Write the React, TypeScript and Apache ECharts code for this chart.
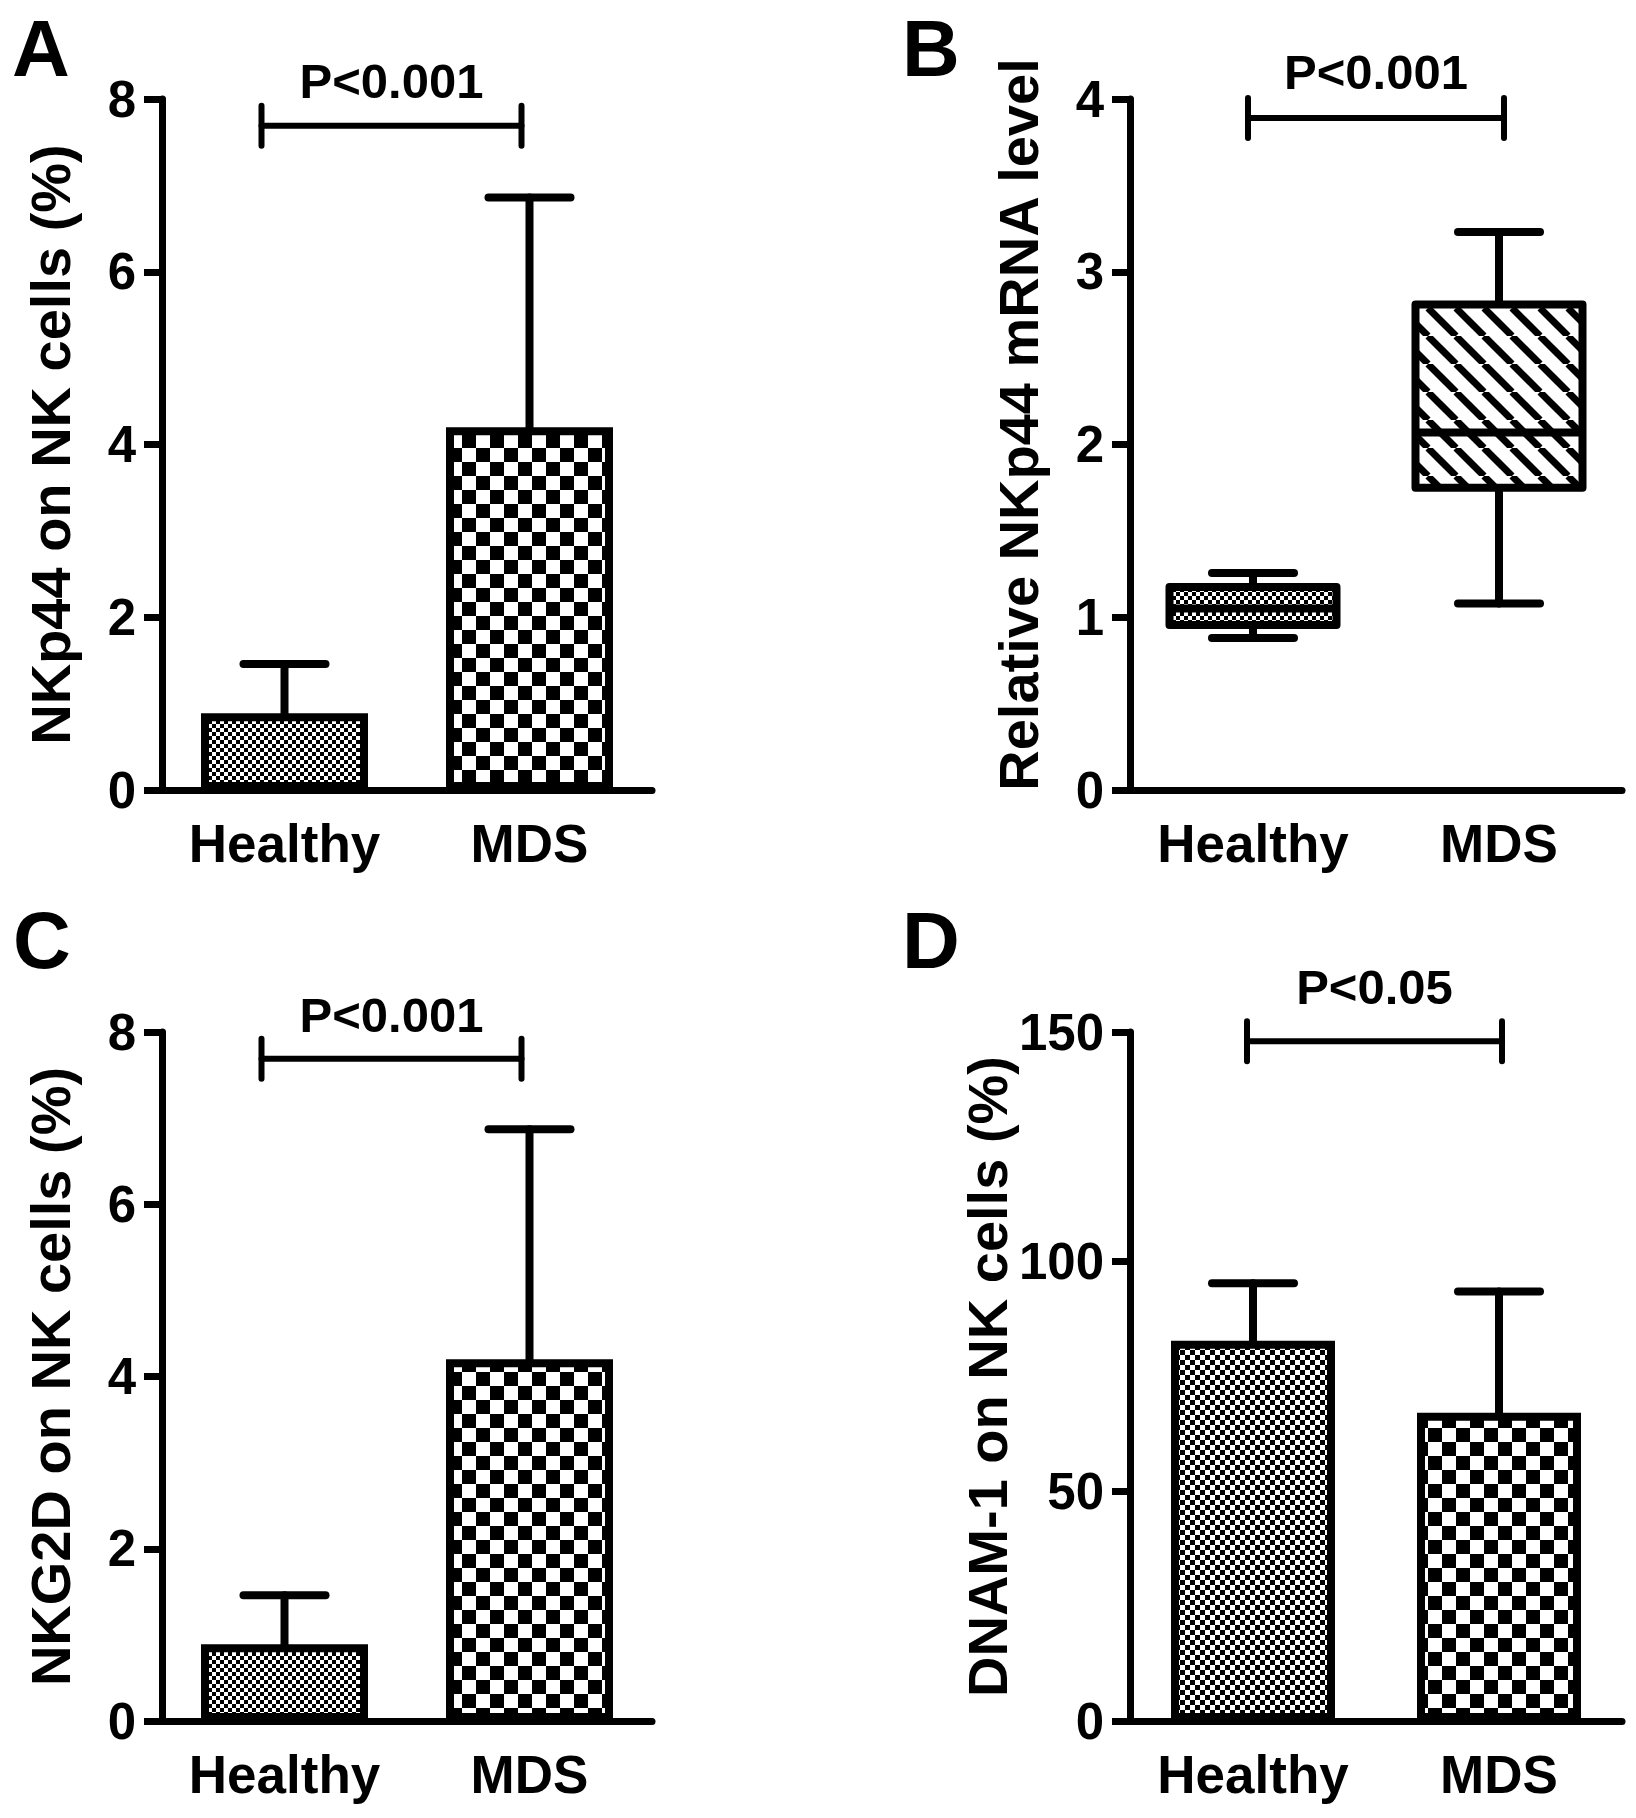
import { useEffect, useRef } from 'react';
import * as echarts from 'echarts';

const FONT = '"Liberation Sans", Arial, Helvetica, sans-serif';

// groups on the x axis
const categories = ['Healthy', 'MDS'];

// A: NKp44 on NK cells (%) — mean and top of the error bar
const nkp44Mean = [0.89, 4.2];
const nkp44ErrTop = [1.46, 6.86];

// B: relative NKp44 mRNA level — [min, Q1, median, Q3, max]
const mrnaHealthy = [0.88, 0.955, 1.05, 1.175, 1.256];
const mrnaMds = [1.08, 1.75, 2.07, 2.81, 3.23];

// C: NKG2D on NK cells (%)
const nkg2dMean = [0.89, 4.2];
const nkg2dErrTop = [1.46, 6.87];

// D: DNAM-1 on NK cells (%)
const dnamMean = [82.8, 67.1];
const dnamErrTop = [95.3, 93.5];

// y axis ticks per panel
const ticksA = [0, 2, 4, 6, 8];
const ticksB = [0, 1, 2, 3, 4];
const ticksC = [0, 2, 4, 6, 8];
const ticksD = [0, 50, 100, 150];

// significance brackets
const bracketLevels = [7.69, 3.89, 7.69, 148];
const pLabels = ['P<0.001', 'P<0.001', 'P<0.001', 'P<0.05'];

const BOX_WIDTH = 167;
const CAP_HALF = 41;

function makeChecker(cell: number) {
  const c = document.createElement('canvas');
  c.width = cell * 2;
  c.height = cell * 2;
  const ctx = c.getContext('2d')!;
  ctx.fillStyle = '#fff';
  ctx.fillRect(0, 0, c.width, c.height);
  ctx.fillStyle = '#000';
  ctx.fillRect(0, 0, cell, cell);
  ctx.fillRect(cell, cell, cell, cell);
  return c;
}

function makeHatch(size: number, width: number) {
  const c = document.createElement('canvas');
  c.width = size;
  c.height = size;
  const ctx = c.getContext('2d')!;
  ctx.fillStyle = '#fff';
  ctx.fillRect(0, 0, size, size);
  ctx.strokeStyle = '#000';
  ctx.lineWidth = width;
  for (const x0 of [-size, 0, size]) {
    ctx.beginPath();
    ctx.moveTo(x0, 0);
    ctx.lineTo(x0 + size, size);
    ctx.stroke();
  }
  return c;
}

const lineStyle = (w: number) => ({ stroke: '#000', lineWidth: w, lineCap: 'round' as const });

export default function App() {
  const chartRef = useRef<HTMLDivElement>(null);

  useEffect(() => {
    if (!chartRef.current) return;
    document.body.style.margin = '0';

    const chart = echarts.init(chartRef.current, undefined, { renderer: 'svg' });

    const fineCheck = makeChecker(4);
    const midCheck = makeChecker(5);
    const bigCheck = makeChecker(14);
    const hatch = makeHatch(28, 7);

    const panels = [
      {
        grid: { left: 162, top: 99, width: 490, height: 691 },
        ticks: ticksA, yName: 'NKp44 on NK cells (%)', namePad: 0, kind: 'bar',
        means: nkp44Mean, tops: nkp44ErrTop, fills: [fineCheck, bigCheck], barWidth: 167,
        shift: [-23, -8], pGap: 20,
      },
      {
        grid: { left: 1130, top: 99, width: 492, height: 691 },
        ticks: ticksB, yName: 'Relative NKp44 mRNA level', namePad: 40, kind: 'box',
        boxes: [mrnaHealthy, mrnaMds], fills: [fineCheck, hatch],
        shift: [-5, 5], pGap: 22,
      },
      {
        grid: { left: 162, top: 1032, width: 490, height: 689 },
        ticks: ticksC, yName: 'NKG2D on NK cells (%)', namePad: 0, kind: 'bar',
        means: nkg2dMean, tops: nkg2dErrTop, fills: [fineCheck, bigCheck], barWidth: 167,
        shift: [-23, -8], pGap: 19,
      },
      {
        grid: { left: 1130, top: 1032, width: 492, height: 689 },
        ticks: ticksD, yName: 'DNAM-1 on NK cells (%)', namePad: 0, kind: 'bar',
        means: dnamMean, tops: dnamErrTop, fills: [midCheck, bigCheck], barWidth: 164,
        shift: [-6, 3], pGap: 30,
      },
    ];

    const grid: any[] = [];
    const xAxis: any[] = [];
    const yAxis: any[] = [];
    const series: any[] = [];

    panels.forEach((p: any, i) => {
      grid.push(p.grid);
      xAxis.push({
        type: 'category',
        gridIndex: i,
        data: categories,
        axisLine: { lineStyle: { color: '#000', width: 7 } },
        axisTick: { alignWithLabel: true, length: 20, lineStyle: { color: '#000', width: 7 } },
        axisLabel: { interval: 0, color: '#000', fontSize: 53, fontWeight: 'bold', fontFamily: FONT, margin: 27 },
        splitLine: { show: false },
      });
      const t = p.ticks as number[];
      yAxis.push({
        type: 'value',
        gridIndex: i,
        min: t[0],
        max: t[t.length - 1],
        interval: t[1] - t[0],
        name: p.yName,
        nameLocation: 'middle',
        nameGap: 84,
        nameTextStyle: {
          color: '#000', fontSize: 56, fontWeight: 'bold', fontFamily: FONT,
          padding: [0, 0, 0, p.namePad],
        },
        axisLine: { show: true, lineStyle: { color: '#000', width: 7 } },
        axisTick: { show: true, length: 18, lineStyle: { color: '#000', width: 7 } },
        axisLabel: { color: '#000', fontSize: 51, fontWeight: 'bold', fontFamily: FONT, margin: 26 },
        splitLine: { show: false },
      });

      if (p.kind === 'bar') {
        series.push({
          type: 'custom',
          xAxisIndex: i,
          yAxisIndex: i,
          silent: true,
          z: 2,
          data: (p.means as number[]).map((v, j) => [j, v, p.tops[j]]),
          renderItem: (_params: any, api: any) => {
            const j = api.value(0);
            const base = api.coord([j, api.value(1)]);
            const top = api.coord([j, api.value(2)]);
            return {
              type: 'group',
              children: [
                { type: 'line', shape: { x1: base[0], y1: base[1], x2: top[0], y2: top[1] }, style: lineStyle(8) },
                { type: 'line', shape: { x1: top[0] - CAP_HALF, y1: top[1], x2: top[0] + CAP_HALF, y2: top[1] }, style: lineStyle(8) },
              ],
            };
          },
        });
        series.push({
          type: 'bar',
          xAxisIndex: i,
          yAxisIndex: i,
          silent: true,
          z: 3,
          barWidth: p.barWidth,
          data: (p.means as number[]).map((v, j) => ({
            value: v,
            itemStyle: {
              color: { image: p.fills[j], repeat: 'repeat' },
              borderColor: '#000',
              borderWidth: 8,
            },
          })),
        });
      } else {
        series.push({
          type: 'custom',
          xAxisIndex: i,
          yAxisIndex: i,
          silent: true,
          z: 3,
          data: (p.boxes as number[][]).map((b, j) => [j, ...b]),
          renderItem: (params: any, api: any) => {
            const j = api.value(0);
            const c = (v: number) => api.coord([j, v]);
            const lo = c(api.value(1));
            const q1 = c(api.value(2));
            const med = c(api.value(3));
            const q3 = c(api.value(4));
            const hi = c(api.value(5));
            const x = med[0];
            const hw = BOX_WIDTH / 2;
            return {
              type: 'group',
              children: [
                { type: 'line', shape: { x1: x, y1: q3[1], x2: x, y2: hi[1] }, style: lineStyle(8) },
                { type: 'line', shape: { x1: x, y1: q1[1], x2: x, y2: lo[1] }, style: lineStyle(8) },
                { type: 'line', shape: { x1: x - CAP_HALF, y1: hi[1], x2: x + CAP_HALF, y2: hi[1] }, style: lineStyle(8) },
                { type: 'line', shape: { x1: x - CAP_HALF, y1: lo[1], x2: x + CAP_HALF, y2: lo[1] }, style: lineStyle(8) },
                {
                  type: 'rect',
                  shape: { x: x - hw, y: q3[1], width: hw * 2, height: q1[1] - q3[1] },
                  style: { fill: { image: p.fills[params.dataIndex], repeat: 'repeat' }, stroke: '#000', lineWidth: 8, lineJoin: 'round' },
                },
                { type: 'line', shape: { x1: x - hw, y1: med[1], x2: x + hw, y2: med[1] }, style: { stroke: '#000', lineWidth: 8 } },
              ],
            };
          },
        });
      }

      // significance bracket with its P label
      series.push({
        type: 'custom',
        xAxisIndex: i,
        yAxisIndex: i,
        silent: true,
        z: 4,
        data: [[0, bracketLevels[i]]],
        renderItem: (_params: any, api: any) => {
          const y = api.value(1);
          const a = api.coord([0, y]);
          const b = api.coord([1, y]);
          const x0 = a[0] + p.shift[0];
          const x1 = b[0] + p.shift[1];
          const yy = a[1];
          return {
            type: 'group',
            children: [
              { type: 'line', shape: { x1: x0, y1: yy, x2: x1, y2: yy }, style: lineStyle(6) },
              { type: 'line', shape: { x1: x0, y1: yy - 20, x2: x0, y2: yy + 20 }, style: lineStyle(6) },
              { type: 'line', shape: { x1: x1, y1: yy - 20, x2: x1, y2: yy + 20 }, style: lineStyle(6) },
              {
                type: 'text',
                x: (x0 + x1) / 2,
                y: yy - p.pGap,
                style: {
                  text: pLabels[i],
                  fill: '#000',
                  fontSize: 49,
                  fontWeight: 'bold',
                  fontFamily: FONT,
                  align: 'center',
                  verticalAlign: 'bottom',
                },
              },
            ],
          };
        },
      });
    });

    const letter = (text: string, x: number, y: number) => ({
      type: 'text',
      x,
      y,
      style: { text, fill: '#000', fontSize: 80, fontWeight: 'bold', fontFamily: FONT, align: 'left', verticalAlign: 'middle' },
    });

    chart.setOption({
      animation: false,
      backgroundColor: '#fff',
      textStyle: { fontFamily: FONT },
      grid,
      xAxis,
      yAxis,
      series,
      graphic: [
        letter('A', 12, 48),
        letter('B', 902, 48),
        letter('C', 13, 940),
        letter('D', 902, 940),
      ],
    });

    return () => {
      chart.dispose();
    };
  }, []);

  return <div ref={chartRef} style={{ width: 1636, height: 1818, background: '#fff' }} />;
}
